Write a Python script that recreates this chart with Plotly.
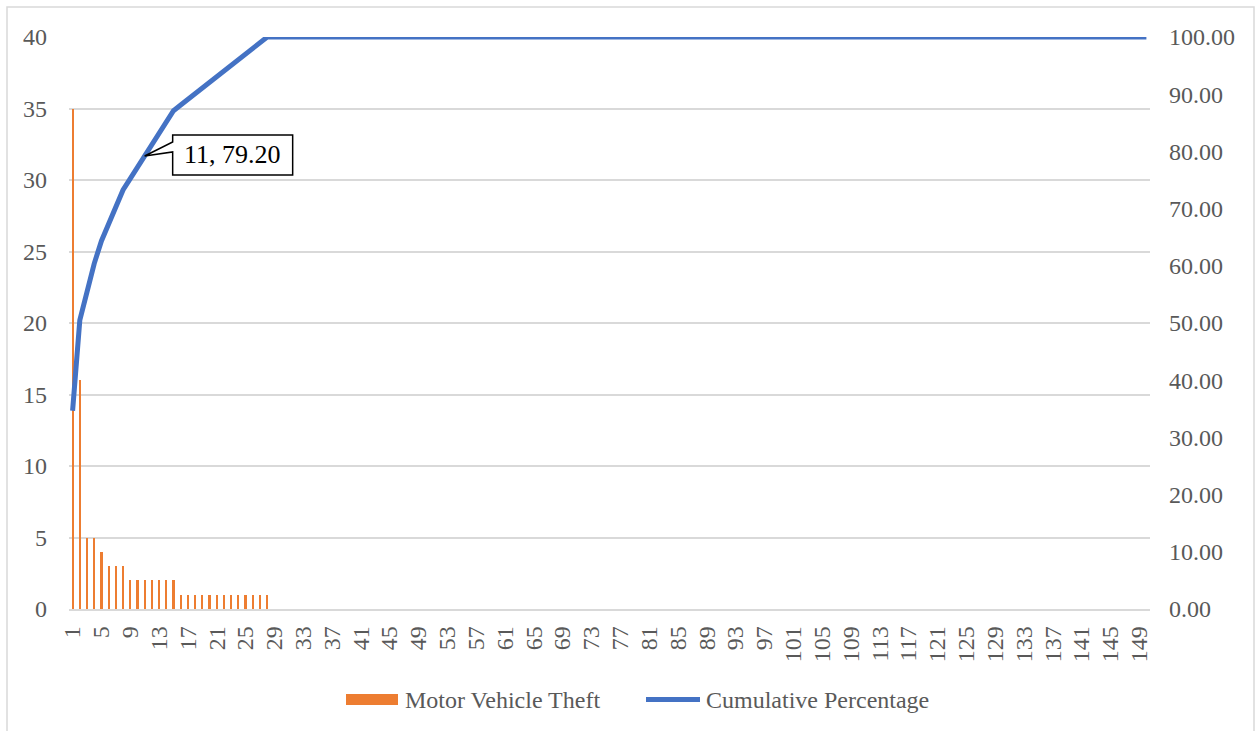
import numpy as np
import plotly.graph_objects as go

# Incident ranks 1..150 and motor vehicle theft counts per rank (sorted descending)
ranks = list(range(1, 151))
theft_counts = [35, 16, 5, 5, 4, 3, 3, 3, 2, 2, 2, 2, 2, 2, 2,
                1, 1, 1, 1, 1, 1, 1, 1, 1, 1, 1, 1, 1] + [0] * 122

# Each rank's share (rounded to 2 dp) accumulated into a running percentage
share_pct = np.round(np.array(theft_counts) / np.sum(theft_counts) * 100, 2)
cumulative_pct = list(np.round(np.cumsum(share_pct), 2))

tick_vals = list(range(1, 151, 4))
tick_text = [str(v) for v in tick_vals]

left_ticks = list(range(0, 41, 5))
right_ticks = list(range(0, 101, 10))
right_text = [f"{v:.2f}" for v in right_ticks]

ORANGE = "#ED7D31"
BLUE = "#4472C4"
GRID = "#D9D9D9"
TXT = "#595959"
FONT = "Liberation Serif, Times New Roman, DejaVu Serif, serif"
FS = 24

# Plot area in pixels (used to place the border and legend in paper units)
L, R, T, B = 69, 1150, 37, 609
W, H = R - L, B - T


def px(x):
    return (x - L) / W


def py(y):
    return (B - y) / H


fig = go.Figure()
fig.add_trace(go.Bar(
    x=ranks, y=theft_counts, name="Motor Vehicle Theft", showlegend=False,
    marker=dict(color=ORANGE, line=dict(width=0)), width=0.3, yaxis="y",
))
fig.add_trace(go.Scatter(
    x=ranks, y=cumulative_pct, name="Cumulative Percentage", mode="lines",
    line=dict(color=BLUE, width=5), yaxis="y2", showlegend=False,
))

# Callout on the 11th rank: box with a wedge pointing at the line
idx = 10
fig.add_shape(
    type="path", xref="x", yref="y2",
    xsizemode="pixel", ysizemode="pixel",
    xanchor=ranks[idx], yanchor=cumulative_pct[idx],
    path="M 0,0 L 28,4 L 28,-19 L 148,-19 L 148,21 L 28,21 L 28,14 Z",
    fillcolor="white", line=dict(color="black", width=1.5), layer="above",
)
fig.add_annotation(
    x=ranks[idx], y=cumulative_pct[idx], xref="x", yref="y2",
    text=f"{ranks[idx]}, {cumulative_pct[idx]:.2f}", showarrow=False,
    xshift=88, yshift=1, xanchor="center", yanchor="middle",
    font=dict(family=FONT, size=26, color="black"),
)

# Outer chart border
fig.add_shape(type="rect", xref="paper", yref="paper",
              x0=px(7), x1=px(1254), y0=py(740), y1=py(7),
              line=dict(color=GRID, width=1.5), layer="below")

# Legend below the plot
fig.add_shape(type="rect", xref="paper", yref="paper",
              x0=px(346), x1=px(398), y0=py(705), y1=py(694),
              fillcolor=ORANGE, line=dict(width=0))
fig.add_shape(type="line", xref="paper", yref="paper",
              x0=px(646), x1=px(700), y0=py(699.5), y1=py(699.5),
              line=dict(color=BLUE, width=5))
fig.add_annotation(x=px(403), y=py(699.5), xref="paper", yref="paper",
                   text="Motor Vehicle Theft", showarrow=False,
                   xanchor="left", yanchor="middle",
                   font=dict(family=FONT, size=FS, color=TXT))
fig.add_annotation(x=px(704), y=py(699.5), xref="paper", yref="paper",
                   text="Cumulative Percentage", showarrow=False,
                   xanchor="left", yanchor="middle",
                   font=dict(family=FONT, size=FS, color=TXT))

fig.update_layout(
    width=1255, height=731,
    margin=dict(l=L, r=1255 - R, t=T, b=731 - B),
    paper_bgcolor="white", plot_bgcolor="white",
    font=dict(family=FONT, size=FS, color=TXT),
    bargap=0,
    showlegend=False,
    xaxis=dict(range=[0.5, 150.5], tickmode="array", tickvals=tick_vals, ticktext=tick_text,
               tickangle=-90, showgrid=False, zeroline=False, showline=True,
               linecolor=GRID, linewidth=1.5, ticks="", ticklabelstandoff=6,
               tickfont=dict(family=FONT, size=FS, color=TXT)),
    yaxis=dict(range=[0, 40], tickvals=left_ticks, showgrid=True, gridcolor=GRID,
               gridwidth=1.5, zeroline=False, showline=False, ticks="",
               ticklabelstandoff=21,
               tickfont=dict(family=FONT, size=FS, color=TXT)),
    yaxis2=dict(range=[0, 100], tickvals=right_ticks, ticktext=right_text,
                overlaying="y", side="right", showgrid=False, zeroline=False,
                showline=False, ticks="", ticklabelstandoff=18,
                tickfont=dict(family=FONT, size=FS, color=TXT)),
)

fig.write_html("out.html")
